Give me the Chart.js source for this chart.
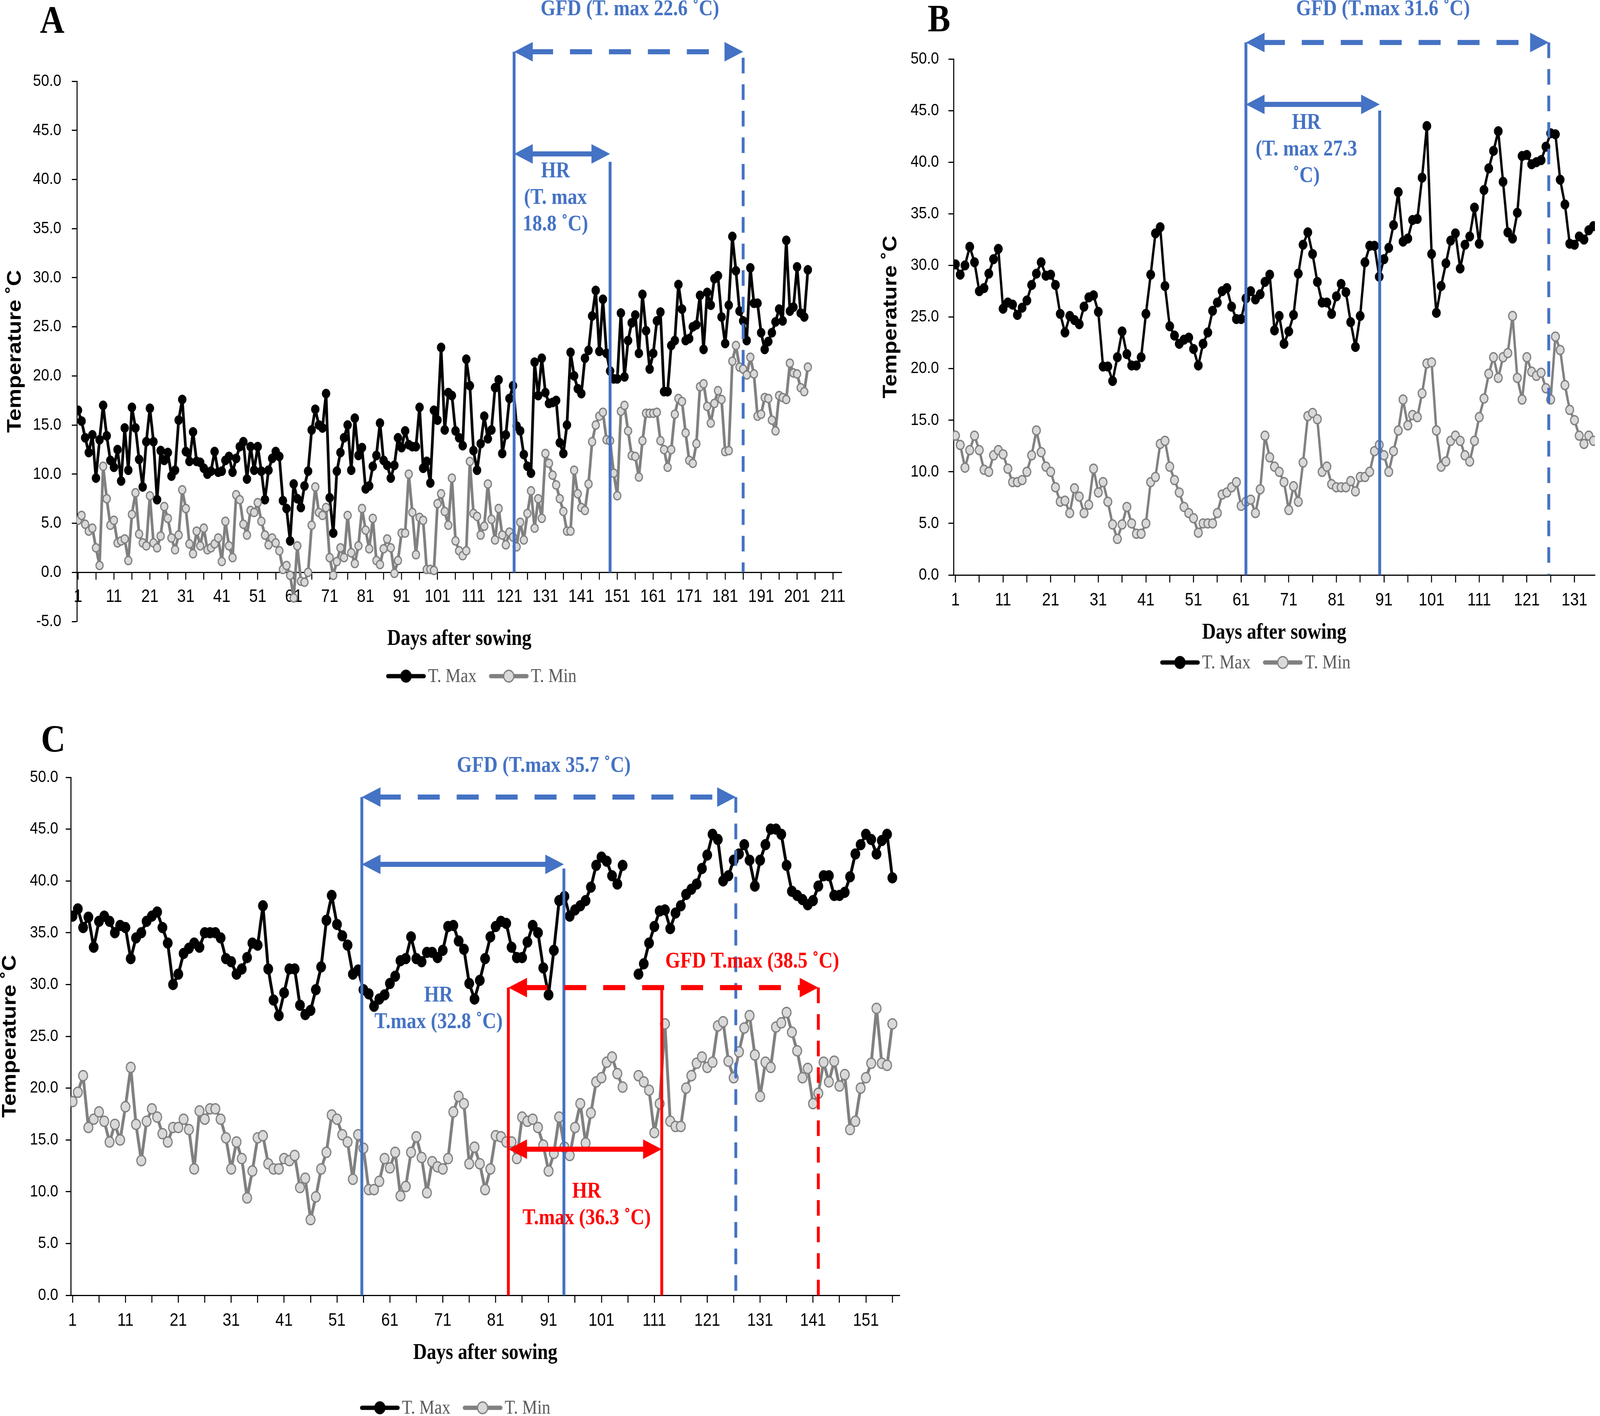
<!DOCTYPE html>
<html>
<head>
<meta charset="utf-8">
<script src="https://cdn.jsdelivr.net/npm/chart.js@4.4.1/dist/chart.umd.min.js"></script>
<style>
  html, body { margin: 0; padding: 0; background: #fff; overflow: hidden; }
  body { position: relative; }
  canvas { position: absolute; }
</style>
</head>
<body>
<canvas id="chartA" width="2700" height="1800"></canvas>
<canvas id="chartB" width="2164" height="1800"></canvas>
<canvas id="chartC" width="2750" height="1795"></canvas>
<script>
const tMaxA = [
  16.5, 15.4, 13.7, 12.2, 14.0, 9.6, 13.5, 17.0, 13.9, 11.4,
  10.7, 12.5, 9.3, 14.7, 10.4, 16.8, 14.7, 11.5, 8.7, 13.3,
  16.7, 13.3, 7.4, 12.4, 11.4, 12.2, 9.8, 10.4, 15.5, 17.6,
  12.3, 11.3, 14.3, 11.3, 11.2, 10.6, 10.0, 10.3, 12.3, 10.2,
  10.3, 11.4, 11.8, 10.2, 11.6, 12.8, 13.3, 9.5, 12.8, 10.4,
  12.8, 10.3, 7.4, 10.4, 11.6, 12.3, 11.8, 7.3, 6.5, 3.2,
  9.0, 7.5, 6.6, 8.8, 10.3, 14.5, 16.6, 15.0, 14.7, 18.2,
  7.6, 4.0, 10.3, 12.2, 13.7, 15.0, 10.4, 15.7, 11.9, 12.7,
  8.5, 8.8, 10.8, 11.9, 15.2, 11.4, 10.9, 9.6, 10.9, 13.7,
  12.7, 14.4, 13.0, 12.8, 12.8, 16.8, 10.6, 11.3, 9.1, 16.5,
  15.5, 22.9, 14.5, 18.3, 18.0, 14.4, 13.7, 12.9, 21.7, 19.0,
  12.4, 10.4, 13.1, 15.9, 13.6, 14.5, 18.8, 19.6, 12.1, 14.0,
  17.7, 19.0, 14.9, 14.4, 12.0, 10.8, 10.1, 21.4, 18.0, 21.8,
  18.3, 17.2, 17.3, 17.5, 13.2, 12.1, 15.0, 22.4, 20.0, 18.7,
  18.2, 21.8, 22.6, 26.1, 28.7, 22.5, 27.8, 22.3, 20.5, 19.7,
  19.7, 26.4, 19.9, 23.6, 25.4, 26.2, 22.3, 28.3, 24.6, 20.7,
  22.3, 25.6, 26.5, 18.4, 18.4, 23.1, 23.6, 29.3, 26.8, 23.6,
  23.8, 25.0, 25.2, 28.2, 22.7, 28.5, 27.2, 29.9, 30.2, 26.0,
  23.3, 27.2, 34.2, 30.7, 26.6, 25.6, 23.6, 31.0, 27.4, 27.4,
  24.4, 22.7, 23.5, 24.4, 25.5, 26.8, 25.6, 33.8, 26.6, 27.0,
  31.1, 26.4, 26.0, 30.8
];
const tMinA = [
  5.3, 5.8, 4.9, 4.2, 4.5, 2.5, 0.7, 10.8, 7.5, 4.8,
  5.3, 3.0, 3.2, 3.4, 1.2, 5.9, 8.1, 3.9, 3.0, 2.7,
  7.8, 3.0, 2.5, 3.7, 6.7, 5.5, 3.5, 2.3, 3.8, 8.4,
  6.5, 2.9, 1.9, 4.2, 2.7, 4.5, 2.3, 2.5, 2.9, 3.5,
  1.1, 5.2, 2.7, 1.5, 7.9, 7.4, 4.9, 3.8, 6.3, 6.1,
  7.1, 5.2, 3.8, 2.8, 3.5, 3.0, 2.2, 0.3, 0.7, -0.3,
  -2.6, 2.7, -0.9, -1.0, 0.0, 4.8, 8.7, 6.1, 5.8, 6.6,
  1.5, -0.3, 1.1, 2.5, 1.5, 5.8, 2.0, 0.9, 2.7, 6.5,
  4.3, 2.4, 5.5, 1.2, 0.8, 2.4, 3.4, 2.5, -0.1, 1.2,
  4.0, 4.0, 10.0, 6.1, 1.8, 5.6, 5.3, 0.3, 0.3, 0.2,
  7.0, 8.0, 6.2, 4.8, 9.6, 3.2, 2.2, 1.7, 2.2, 11.3,
  6.0, 5.7, 3.8, 4.7, 9.0, 5.4, 3.3, 6.5, 3.8, 2.8,
  4.1, 3.6, 2.6, 5.1, 3.3, 6.0, 8.3, 4.5, 7.5, 5.5,
  12.1, 11.1, 9.9, 8.9, 7.5, 6.2, 4.2, 4.2, 10.4, 8.0,
  6.6, 6.3, 9.0, 13.3, 15.0, 15.9, 16.3, 13.5, 13.4, 10.1,
  7.8, 16.4, 17.0, 14.4, 11.9, 11.8, 9.7, 13.4, 16.2, 16.2,
  16.2, 16.3, 13.4, 12.5, 10.7, 12.5, 16.1, 17.7, 17.4, 14.2,
  11.4, 11.1, 13.1, 18.9, 19.2, 16.9, 15.2, 17.2, 18.5, 17.6,
  12.3, 12.4, 21.5, 23.1, 20.9, 20.7, 20.1, 21.9, 20.2, 15.9,
  16.1, 17.8, 17.7, 15.5, 14.4, 18.0, 17.8, 17.6, 21.3, 20.3,
  20.2, 18.8, 18.4, 20.9
];

const tMaxB = [
  30.1, 29.1, 30.0, 31.8, 30.3, 27.5, 27.8, 29.2, 30.6, 31.6,
  25.8, 26.4, 26.2, 25.2, 25.9, 26.6, 28.1, 29.2, 30.3, 29.0,
  29.1, 28.1, 25.3, 23.5, 25.1, 24.7, 24.3, 26.0, 26.9, 27.1,
  25.5, 20.2, 20.2, 18.8, 21.1, 23.6, 21.4, 20.3, 20.3, 21.1,
  25.3, 29.1, 33.1, 33.7, 28.0, 24.1, 23.2, 22.4, 22.8, 23.0,
  21.9, 20.3, 22.4, 23.5, 25.6, 26.4, 27.5, 27.8, 26.0, 24.8,
  24.8, 26.8, 27.5, 26.7, 27.2, 28.4, 29.1, 23.7, 25.1, 22.4,
  23.6, 25.2, 29.2, 32.0, 33.2, 31.1, 28.4, 26.4, 26.4, 25.3,
  27.0, 28.2, 27.4, 24.5, 22.1, 25.1, 30.3, 31.9, 31.9, 28.9,
  30.6, 31.7, 33.9, 37.1, 32.3, 32.6, 34.4, 34.5, 38.5, 43.5,
  31.1, 25.4, 28.0, 30.2, 32.4, 33.1, 29.7, 32.0, 32.8, 35.6,
  32.1, 37.3, 39.4, 41.1, 43.0, 38.1, 33.2, 32.6, 35.1, 40.6,
  40.7, 39.8, 40.0, 40.2, 41.5, 42.8, 42.7, 38.3, 35.9, 32.1,
  32.0, 32.8, 32.5, 33.4, 33.8
];
const tMinB = [
  13.5, 12.6, 10.4, 12.1, 13.5, 12.1, 10.2, 10.0, 11.6, 12.1,
  11.7, 10.3, 9.0, 9.0, 9.2, 10.0, 11.6, 14.0, 11.9, 10.5,
  10.0, 8.5, 7.1, 7.2, 6.0, 8.4, 7.6, 6.0, 6.8, 10.3,
  8.0, 9.0, 7.1, 4.9, 3.5, 4.9, 6.6, 5.0, 4.0, 4.0,
  5.0, 9.0, 9.5, 12.7, 13.0, 10.5, 9.2, 8.0, 6.6, 6.0,
  5.5, 4.1, 5.0, 5.0, 5.0, 6.0, 7.8, 8.0, 8.5, 9.0,
  6.7, 7.1, 7.3, 6.0, 8.3, 13.5, 11.4, 10.5, 10.0, 9.0,
  6.3, 8.6, 7.1, 10.9, 15.4, 15.7, 15.1, 10.0, 10.5, 8.8,
  8.5, 8.5, 8.5, 9.1, 8.1, 9.5, 9.5, 10.0, 12.0, 12.6,
  11.6, 10.0, 12.0, 14.0, 17.0, 14.5, 15.5, 15.3, 17.6, 20.5,
  20.6, 14.0, 10.5, 11.0, 13.0, 13.5, 13.0, 11.6, 11.0, 13.0,
  15.3, 17.1, 19.5, 21.1, 19.1, 21.1, 21.5, 25.1, 19.1, 17.0,
  21.1, 19.7, 19.3, 19.6, 18.1, 17.0, 23.1, 21.8, 18.4, 16.0,
  15.0, 13.5, 12.7, 13.5, 13.0
];

// panel C has no readings on days 106 and 107
const tMaxC = [
  36.6, 37.3, 35.5, 36.5, 33.6, 36.1, 36.6, 36.1, 35.0, 35.7,
  35.5, 32.5, 34.5, 35.0, 36.1, 36.6, 37.0, 35.5, 34.0, 30.0,
  31.0, 33.0, 33.5, 34.0, 33.6, 35.0, 35.0, 35.0, 34.5, 32.5,
  32.2, 31.0, 31.5, 32.6, 34.0, 33.8, 37.6, 31.5, 28.5, 27.0,
  29.2, 31.5, 31.5, 28.0, 27.1, 27.5, 29.5, 31.7, 36.2, 38.6,
  35.8, 34.7, 33.8, 31.0, 31.4, 29.5, 29.1, 27.9, 28.6, 29.0,
  30.1, 30.8, 32.3, 32.5, 34.6, 32.5, 32.2, 33.1, 33.1, 32.6,
  33.3, 35.6, 35.7, 34.2, 33.4, 30.1, 28.6, 30.4, 32.5, 34.6,
  35.6, 36.1, 35.9, 33.6, 32.6, 32.6, 34.1, 35.7, 35.0, 31.6,
  29.0, 33.3, 38.1, 38.5, 36.6, 37.2, 37.6, 38.1, 39.4, 41.5,
  42.3, 41.9, 40.5, 39.7, 41.5, null, null, 31.0, 32.0, 34.0,
  35.6, 37.1, 37.2, 35.4, 36.9, 37.6, 38.7, 39.2, 39.7, 41.2,
  42.5, 44.5, 44.0, 40.0, 40.5, 42.0, 42.6, 43.5, 42.0, 39.5,
  42.0, 43.5, 45.0, 45.0, 44.5, 41.5, 39.0, 38.6, 38.2, 37.7,
  38.1, 39.5, 40.5, 40.5, 38.6, 38.6, 38.9, 40.4, 42.6, 43.5,
  44.5, 44.0, 42.6, 43.9, 44.5, 40.3
];
const tMinC = [
  18.7, 19.6, 21.2, 16.2, 17.0, 17.7, 16.8, 14.8, 16.5, 15.0,
  18.2, 22.0, 16.5, 13.0, 16.8, 18.0, 17.2, 15.6, 14.8, 16.2,
  16.2, 17.0, 16.0, 12.2, 17.8, 17.0, 18.0, 18.0, 17.0, 15.2,
  12.2, 14.8, 13.2, 9.4, 12.0, 15.2, 15.4, 12.7, 12.2, 12.2,
  13.2, 13.0, 13.5, 10.4, 11.3, 7.3, 9.5, 12.2, 13.8, 17.4,
  17.0, 15.5, 14.8, 11.2, 15.5, 14.2, 10.2, 10.2, 11.0, 13.2,
  12.3, 13.8, 9.6, 10.5, 13.8, 15.3, 13.3, 9.9, 12.9, 12.4,
  12.2, 13.2, 17.7, 19.2, 18.5, 12.7, 14.3, 12.7, 10.2, 12.2,
  15.4, 15.3, 14.8, 14.8, 13.2, 17.2, 16.8, 17.0, 16.2, 14.5,
  12.0, 13.7, 17.2, 14.3, 13.5, 16.2, 18.5, 14.7, 17.6, 20.6,
  21.0, 22.5, 23.0, 21.4, 20.1, null, null, 21.2, 20.6, 19.8,
  15.7, 18.5, 26.2, 16.8, 16.3, 16.3, 20.0, 21.2, 22.4, 23.0,
  22.0, 22.5, 26.0, 26.4, 22.6, 21.0, 23.5, 25.8, 27.0, 23.2,
  19.2, 22.5, 22.0, 25.9, 26.3, 27.3, 25.4, 23.6, 21.0, 21.9,
  18.5, 19.5, 22.5, 20.6, 22.6, 20.2, 21.3, 16.0, 16.8, 20.0,
  21.0, 22.4, 27.7, 22.4, 22.2, 26.2
];

const seriesNames = ['T. Max', 'T. Min'];
const axisTitles = { x: 'Days after sowing', y: 'Temperature ˚C' };

const BLUE = '#4472C4';
const RED = '#FF0000';

// growth-stage markers: vertical lines (day, top value), arrows, labels
const annoA = {
  vLines: [
    { day: 122.3, top: 53.0, color: BLUE, dashed: false },
    { day: 149.0, top: 41.8, color: BLUE, dashed: false },
    { day: 186.0, top: 52.4, color: BLUE, dashed: true }
  ],
  arrows: [
    { from: 122.3, to: 186.0, at: 53.0, color: BLUE, dashed: true },
    { from: 122.3, to: 149.0, at: 42.6, color: BLUE, dashed: false }
  ],
  notes: [
    { day: 154.5, at: 57.3, lines: ['GFD (T. max 22.6 ˚C)'], color: BLUE },
    { day: 133.8, at: 40.8, lines: ['HR', '(T. max', '18.8 ˚C)'], color: BLUE }
  ]
};
const annoB = {
  vLines: [
    { day: 62.0, top: 51.6, color: BLUE, dashed: false },
    { day: 90.1, top: 45.0, color: BLUE, dashed: false },
    { day: 125.6, top: 51.6, color: BLUE, dashed: true }
  ],
  arrows: [
    { from: 62.0, to: 125.6, at: 51.6, color: BLUE, dashed: true },
    { from: 62.0, to: 90.1, at: 45.6, color: BLUE, dashed: false }
  ],
  notes: [
    { day: 90.8, at: 54.8, lines: ['GFD (T.max 31.6 ˚C)'], color: BLUE },
    { day: 74.7, at: 43.8, lines: ['HR', '(T. max 27.3', '˚C)'], color: BLUE }
  ]
};
const annoC = {
  vLines: [
    { day: 55.7, top: 48.1, color: BLUE, dashed: false },
    { day: 93.9, top: 41.2, color: BLUE, dashed: false },
    { day: 126.4, top: 48.1, color: BLUE, dashed: true },
    { day: 83.4, top: 29.7, color: RED, dashed: false },
    { day: 112.4, top: 29.7, color: RED, dashed: false },
    { day: 142.0, top: 29.7, color: RED, dashed: true }
  ],
  arrows: [
    { from: 55.7, to: 126.4, at: 48.1, color: BLUE, dashed: true },
    { from: 55.7, to: 93.9, at: 41.6, color: BLUE, dashed: false },
    { from: 83.4, to: 142.0, at: 29.7, color: RED, dashed: true },
    { from: 83.4, to: 112.4, at: 14.1, color: RED, dashed: false }
  ],
  notes: [
    { day: 90.1, at: 51.1, lines: ['GFD (T.max 35.7 ˚C)'], color: BLUE },
    { day: 70.2, at: 28.9, lines: ['HR', 'T.max (32.8 ˚C)'], color: BLUE },
    { day: 129.5, at: 32.2, lines: ['GFD T.max (38.5 ˚C)'], color: RED },
    { day: 98.2, at: 10.0, lines: ['HR', 'T.max (36.3 ˚C)'], color: RED }
  ]
};

const SERIF = "'Liberation Serif', 'Times New Roman', serif";
const SANS = "'Liberation Sans', Arial, sans-serif";

// layout of each panel, in pixels of the 4724 x 3625 figure
const panels = [
  { id: 'chartA', letter: 'A', tMax: tMaxA, tMin: tMinA, anno: annoA, at: [0, 0],
    xMin: 0.7, xMax: 213.4, lastTick: 211, yMin: -5, yMax: 50,
    area: { left: 227, right: 2485, top: 208, bottom: 1591 }, zeroY: 1466, titleY: 1637,
    yTitleX: 45, yPad: 31, xPad: 18, line: 8, rMax: 12, rMin: 10.5,
    letterPos: [154, 58], legend: { cx: 1421, cy: 1731 } },
  { id: 'chartB', letter: 'B', tMax: tMaxB, tMin: tMinB, anno: annoB, at: [2560, 0],
    xMin: 0.6, xMax: 135.3, lastTick: 131, yMin: 0, yMax: 50,
    area: { left: 255, right: 2153, top: 151, bottom: 1472 }, zeroY: 1472, titleY: 1621,
    yTitleX: 70, yPad: 28, xPad: 21, line: 7, rMax: 12.5, rMin: 11.5,
    letterPos: [212, 54], legend: { cx: 1146, cy: 1696 } },
  { id: 'chartC', letter: 'C', tMax: tMaxC, tMin: tMinC, anno: annoC, at: [0, 1830],
    xMin: 0.67, xMax: 157.4, lastTick: 156, yMin: 0, yMax: 50,
    area: { left: 209, right: 2657, top: 160, bottom: 1486 }, zeroY: 1486, titleY: 1635,
    yTitleX: 30, yPad: 22, xPad: 21, line: 8.5, rMax: 14, rMin: 13,
    letterPos: [157, 68], legend: { cx: 1344, cy: 1774 } }
];

// the figure is 4724 x 3625; the browser may give a smaller css viewport,
// so the canvases are stretched to fill whatever we get
const fx = (window.innerWidth || 4724) / 4724;
const fy = (window.innerHeight || 3625) / 3625;
document.body.style.width = `${4724 * fx}px`;
document.body.style.height = `${3625 * fy}px`;

function dayTicks(last) {
  const t = [];
  for (let d = 1; d <= last; d += 5) t.push({ value: d });
  return t;
}

function drawArrowHead(ctx, x, y, dir) {
  ctx.beginPath();
  ctx.moveTo(x, y);
  ctx.lineTo(x + dir * 55, y - 25);
  ctx.lineTo(x + dir * 55, y + 25);
  ctx.closePath();
  ctx.fill();
}

function overlay(P) {
  return {
    id: 'overlay' + P.letter,
    afterDatasetsDraw(chart) {
      const ctx = chart.ctx, xs = chart.scales.x, ys = chart.scales.y;
      const y0 = ys.getPixelForValue(0);
      ctx.save();
      P.anno.vLines.forEach(l => {
        const x = xs.getPixelForValue(l.day);
        ctx.strokeStyle = l.color;
        ctx.lineWidth = 8.5;
        ctx.setLineDash(l.dashed ? [40, 28] : []);
        ctx.beginPath();
        ctx.moveTo(x, ys.getPixelForValue(l.top));
        ctx.lineTo(x, y0);
        ctx.stroke();
      });
      P.anno.arrows.forEach(a => {
        const x0 = xs.getPixelForValue(a.from), x1 = xs.getPixelForValue(a.to);
        const y = ys.getPixelForValue(a.at);
        ctx.strokeStyle = a.color;
        ctx.fillStyle = a.color;
        ctx.lineWidth = 13;
        ctx.setLineDash(a.dashed ? [65, 50] : []);
        ctx.beginPath();
        ctx.moveTo(x0 + 50, y);
        ctx.lineTo(x1 - 50, y);
        ctx.stroke();
        ctx.setLineDash([]);
        drawArrowHead(ctx, x0, y, 1);
        drawArrowHead(ctx, x1, y, -1);
      });
      ctx.font = `bold 57px ${SERIF}`;
      ctx.textAlign = 'center';
      ctx.textBaseline = 'middle';
      P.anno.notes.forEach(n => {
        ctx.fillStyle = n.color;
        const x = xs.getPixelForValue(n.day);
        const y = ys.getPixelForValue(n.at);
        n.lines.forEach((t, i) => ctx.fillText(t, x, y + i * 68));
      });
      ctx.restore();
    },
    afterDraw(chart) {
      const ctx = chart.ctx;
      ctx.save();
      // panel letter
      ctx.fillStyle = '#000';
      ctx.font = `bold 100px ${SERIF}`;
      ctx.textAlign = 'center';
      ctx.textBaseline = 'middle';
      ctx.fillText(P.letter, P.letterPos[0], P.letterPos[1]);
      // legend under the axis title
      ctx.font = `50px ${SERIF}`;
      ctx.textAlign = 'left';
      const sets = chart.data.datasets;
      const lineLen = 118, gapText = 6, gapItem = 36;
      const widths = sets.map(ds => lineLen + gapText + ctx.measureText(ds.label).width);
      const total = widths.reduce((a, b) => a + b, 0) + gapItem * (sets.length - 1);
      let x = P.legend.cx - total / 2;
      const y = P.legend.cy;
      sets.forEach((ds, i) => {
        ctx.strokeStyle = ds.borderColor;
        ctx.lineWidth = 11;
        ctx.lineCap = 'round';
        ctx.beginPath();
        ctx.moveTo(x + 6, y);
        ctx.lineTo(x + lineLen - 6, y);
        ctx.stroke();
        ctx.beginPath();
        ctx.arc(x + lineLen / 2, y, 15, 0, Math.PI * 2);
        ctx.fillStyle = ds.pointBackgroundColor;
        ctx.fill();
        ctx.lineWidth = 3.5;
        ctx.strokeStyle = ds.pointBorderColor;
        ctx.stroke();
        ctx.fillStyle = '#595959';
        ctx.fillText(ds.label, x + lineLen + gapText, y + 2);
        x += widths[i] + gapItem;
      });
      ctx.restore();
    }
  };
}

function buildChart(P) {
  const canvas = document.getElementById(P.id);
  const W = canvas.width, H = canvas.height;
  // css box fitted to the viewport, bitmap kept at figure resolution
  canvas.style.left = `${P.at[0] * fx}px`;
  canvas.style.top = `${P.at[1] * fy}px`;
  canvas.style.width = `${W * fx}px`;
  canvas.style.height = `${H * fy}px`;
  const xTitleFont = 56;
  // the x axis sits on y = 0 and takes no layout room; its height only places the title
  const xh = P.titleY - P.zeroY + xTitleFont * 1.2 / 2;
  const toPoints = vals => vals.map((v, i) => ({ x: i + 1, y: v }));

  new Chart(canvas, {
    type: 'line',
    data: {
      datasets: [
        {
          label: seriesNames[0], data: toPoints(P.tMax), order: 1,
          borderColor: '#000000', backgroundColor: '#000000', borderWidth: P.line,
          pointRadius: P.rMax, pointBackgroundColor: '#000000', pointBorderColor: '#000000',
          pointBorderWidth: 1, borderJoinStyle: 'round', borderCapStyle: 'round',
          tension: 0, spanGaps: false
        },
        {
          label: seriesNames[1], data: toPoints(P.tMin), order: 0,
          borderColor: '#808080', backgroundColor: '#D9D9D9', borderWidth: P.line,
          pointRadius: P.rMin, pointBackgroundColor: '#D9D9D9', pointBorderColor: '#808080',
          pointBorderWidth: 3.5, borderJoinStyle: 'round', borderCapStyle: 'round',
          tension: 0, spanGaps: false
        }
      ]
    },
    options: {
      responsive: false,
      animation: false,
      devicePixelRatio: 1,
      events: [],
      layout: {
        padding: {
          left: 0,
          top: P.area.top,
          right: W - P.area.right,
          bottom: H - P.area.bottom
        }
      },
      plugins: { legend: { display: false }, tooltip: { enabled: false } },
      scales: {
        x: {
          type: 'linear',
          position: { y: 0 },
          min: P.xMin,
          max: P.xMax,
          afterBuildTicks: s => { s.ticks = dayTicks(P.lastTick); },
          afterFit: s => { s.height = xh; },
          ticks: {
            autoSkip: false, maxRotation: 0, minRotation: 0,
            padding: P.xPad, color: '#000',
            font: { family: SANS, size: 46 },
            callback: v => ((v - 1) % 10 === 0 ? String(v) : '')
          },
          grid: {
            display: true, drawOnChartArea: false, drawTicks: true,
            tickLength: 17, tickWidth: 3, tickColor: '#000'
          },
          border: { display: true, color: '#000', width: 3 },
          title: {
            display: true, text: axisTitles.x, color: '#000',
            font: { family: SERIF, size: xTitleFont, weight: 'bold', lineHeight: 1.2 },
            padding: { top: 0, bottom: 0 }
          }
        },
        y: {
          min: P.yMin,
          max: P.yMax,
          afterFit: s => { s.width = P.area.left; },
          ticks: {
            stepSize: 5, padding: P.yPad, color: '#000',
            font: { family: SANS, size: 43 },
            callback: v => v.toFixed(1)
          },
          grid: {
            display: true, drawOnChartArea: false, drawTicks: true,
            tickLength: 15, tickWidth: 3, tickColor: '#000'
          },
          border: { display: true, color: '#000', width: 3 },
          title: {
            display: true, text: axisTitles.y, color: '#000',
            font: { family: SANS, size: 57, weight: 'bold', lineHeight: 1 },
            padding: { top: P.yTitleX - 28, bottom: 0 }
          }
        }
      }
    },
    plugins: [overlay(P)]
  });
}

panels.forEach(buildChart);
</script>
</body>
</html>
